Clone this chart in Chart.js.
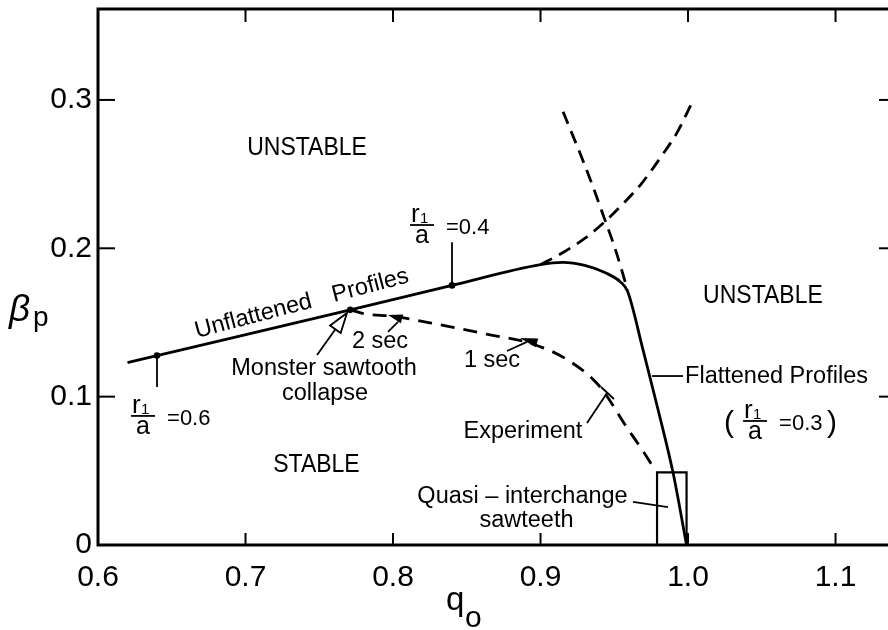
<!DOCTYPE html>
<html>
<head>
<meta charset="utf-8">
<style>
  html, body { margin: 0; padding: 0; background: #fff; overflow: hidden; }
  #wrap { position: absolute; left: 0; top: 0; width: 891px; height: 630px; }
</style>
<script src="https://cdn.jsdelivr.net/npm/chart.js@4/dist/chart.umd.min.js"></script>
</head>
<body>
<div id="wrap"><canvas id="c" width="891" height="630"></canvas></div>
<script>
// Axis ticks
const qTicks = [0.6, 0.7, 0.8, 0.9, 1.0, 1.1];
const qTickLabels = ['0.6', '0.7', '0.8', '0.9', '1.0', '1.1'];
const betaTicks = [0, 0.1, 0.2, 0.3];
const betaTickLabels = ['0', '0.1', '0.2', '0.3'];

// Stability boundary: unflattened profiles (straight part) turning into flattened profiles
const boundaryQ    = [0.62, 0.64, 0.771, 0.84, 0.90, 0.915, 0.930, 0.944, 0.954, 0.959, 0.9695, 0.980, 0.990, 0.999];
const boundaryBeta = [0.123, 0.1277, 0.1585, 0.175, 0.189, 0.1905, 0.1885, 0.1835, 0.1775, 0.171, 0.1315, 0.090, 0.048, 0.0];

// Dashed continuation of the unflattened boundary
const upperDashQ    = [0.90, 0.915, 0.9302, 0.9437, 0.9562, 0.9686, 0.9833, 0.9923, 1.0036];
const upperDashBeta = [0.189, 0.197, 0.2068, 0.218, 0.2303, 0.2438, 0.264, 0.2775, 0.300];

// Dashed continuation of the flattened boundary
const steepDashQ    = [0.9153, 0.928, 0.9356, 0.9437, 0.9505, 0.959];
const steepDashBeta = [0.292, 0.261, 0.2414, 0.219, 0.200, 0.172];

// Experimental trajectory
const experimentQ    = [0.771, 0.780, 0.801, 0.834, 0.864, 0.893, 0.918, 0.940, 0.958, 0.970, 0.978];
const experimentBeta = [0.1585, 0.156, 0.154, 0.148, 0.142, 0.136, 0.125, 0.107, 0.080, 0.0625, 0.050];

// Marked points on the boundary (r1/a = 0.6, monster collapse, r1/a = 0.4)
const markQ    = [0.64, 0.771, 0.84];
const markBeta = [0.1277, 0.1585, 0.175];

// Quasi-interchange sawteeth region
const boxQ    = [0.979, 0.979, 0.999, 0.999];
const boxBeta = [0, 0.049, 0.049, 0];

const pts = (xs, ys) => xs.map((x, i) => ({ x: x, y: ys[i] }));
const FONT = '"Liberation Sans", Arial, Helvetica, sans-serif';

function txt(ctx, s, px, py, o) {
  o = o || {};
  ctx.save();
  ctx.translate(px, py);
  if (o.rot) ctx.rotate(o.rot);
  ctx.scale(o.sx || 1, 1);
  ctx.font = (o.style || '') + ' ' + (o.size || 23.5) + 'px ' + FONT;
  ctx.textAlign = o.align || 'left';
  ctx.textBaseline = 'alphabetic';
  ctx.fillStyle = '#000';
  ctx.fillText(s, 0, 0);
  ctx.restore();
}

function seg(ctx, x1, y1, x2, y2, w) {
  ctx.save();
  ctx.strokeStyle = '#000';
  ctx.lineWidth = w || 1.8;
  ctx.lineCap = 'butt';
  ctx.beginPath();
  ctx.moveTo(x1, y1);
  ctx.lineTo(x2, y2);
  ctx.stroke();
  ctx.restore();
}

function arrowHead(ctx, tx, ty, bx, by, half, open) {
  const dx = tx - bx, dy = ty - by;
  const len = Math.hypot(dx, dy);
  const nx = -dy / len, ny = dx / len;
  ctx.save();
  ctx.beginPath();
  ctx.moveTo(tx, ty);
  ctx.lineTo(bx + nx * half, by + ny * half);
  ctx.lineTo(bx - nx * half, by - ny * half);
  ctx.closePath();
  if (open) {
    ctx.fillStyle = '#fff';
    ctx.fill();
    ctx.strokeStyle = '#000';
    ctx.lineWidth = 1.8;
    ctx.stroke();
  } else {
    ctx.fillStyle = '#000';
    ctx.fill();
  }
  ctx.restore();
}

function frac(ctx, bx, by, eq) {
  txt(ctx, 'r', bx + 1, by - 3, { size: 26 });
  txt(ctx, '1', bx + 10, by - 2, { size: 15 });
  seg(ctx, bx, by, bx + 24, by, 1.8);
  txt(ctx, 'a', bx + 12, by + 18, { size: 25, align: 'center' });
  txt(ctx, eq, bx + 36, by + 9, { size: 22 });
}

// Frame with inward ticks on all four sides
const framePlugin = {
  id: 'frame',
  afterDraw(chart) {
    const ctx = chart.ctx, a = chart.chartArea;
    const xs = chart.scales.x, ys = chart.scales.y;
    ctx.save();
    ctx.strokeStyle = '#000';
    ctx.lineWidth = 3;
    ctx.strokeRect(a.left, a.top, a.right - a.left, a.bottom - a.top);
    ctx.restore();
    qTicks.forEach(v => {
      if (v === qTicks[0]) return;
      const p = xs.getPixelForValue(v);
      seg(ctx, p, a.bottom, p, a.bottom - 12, 2);
      seg(ctx, p, a.top, p, a.top + 13, 2);
    });
    betaTicks.forEach(v => {
      if (v === 0) return;
      const p = ys.getPixelForValue(v);
      seg(ctx, a.left, p, a.left + 17, p, 2);
      seg(ctx, a.right, p, a.right - 12, p, 2);
    });

    // axis titles
    txt(ctx, 'β', 9, 321, { size: 37, style: 'italic' });
    txt(ctx, 'p', 33, 326, { size: 28 });
    txt(ctx, 'q', 446, 610, { size: 33 });
    txt(ctx, 'o', 465, 627, { size: 30 });
  }
};

// Region names, labels and leaders
const notesPlugin = {
  id: 'notes',
  afterDatasetsDraw(chart) {
    const ctx = chart.ctx;
    const xs = chart.scales.x, ys = chart.scales.y;
    const X = v => xs.getPixelForValue(v), Y = v => ys.getPixelForValue(v);

    txt(ctx, 'UNSTABLE', X(0.7417), Y(0.2629), { size: 25, sx: 0.92, align: 'center' });
    txt(ctx, 'UNSTABLE', X(1.0508), Y(0.1632), { size: 25, sx: 0.92, align: 'center' });
    txt(ctx, 'STABLE', X(0.7481), Y(0.0492), { size: 25, sx: 0.92, align: 'center' });

    // boundary label along the straight part
    const ux = X(0.6671), uy = Y(0.1396), px = X(0.76), py = Y(0.1638);
    const ang = Math.atan2(py - uy, px - ux);
    txt(ctx, 'Unflattened', ux, uy, { rot: ang });
    txt(ctx, 'Profiles', px, py, { rot: ang });

    txt(ctx, 'Monster sawtooth', X(0.7532), Y(0.1146), { align: 'center' });
    txt(ctx, 'collapse', X(0.7539), Y(0.0978), { align: 'center' });
    txt(ctx, '2 sec', X(0.7912), Y(0.1328), { align: 'center' });
    txt(ctx, '1 sec', X(0.8671), Y(0.120), { align: 'center' });
    txt(ctx, 'Experiment', X(0.8881), Y(0.0721), { align: 'center' });
    txt(ctx, 'Quasi – interchange', X(0.8878), Y(0.0283), { align: 'center' });
    txt(ctx, 'sawteeth', X(0.8905), Y(0.0121), { align: 'center' });
    txt(ctx, 'Flattened Profiles', X(0.998), Y(0.1092));

    // r1/a fractions
    frac(ctx, X(0.8115), Y(0.2157), '=0.4');
    frac(ctx, X(0.6224), Y(0.087), '=0.6');
    frac(ctx, X(1.0373), Y(0.0836), '=0.3');
    txt(ctx, '(', X(1.0373) - 19, Y(0.0836) + 11, { size: 30 });
    txt(ctx, ')', X(1.0373) + 84, Y(0.0836) + 11, { size: 30 });

    // leaders
    seg(ctx, X(0.64), Y(0.1277), X(0.64), Y(0.1065));
    seg(ctx, X(0.84), Y(0.175), X(0.84), Y(0.204));
    seg(ctx, X(0.7966), Y(0.1436), X(0.8034), Y(0.1504));
    seg(ctx, X(0.8773), Y(0.1308), X(0.8908), Y(0.1369));
    seg(ctx, X(0.9315), Y(0.0823), X(0.9451), Y(0.1025));
    seg(ctx, X(0.941), Y(0.1065), X(0.9498), Y(0.0984));
    seg(ctx, X(0.9756), Y(0.1139), X(0.9966), Y(0.1139));
    seg(ctx, X(0.9627), Y(0.029), X(0.9864), Y(0.0256));

    // time arrows on the experimental path
    arrowHead(ctx, X(0.7966), Y(0.155), X(0.8061), Y(0.1524), 4.5, false);
    arrowHead(ctx, X(0.8861), Y(0.1395), X(0.8976), Y(0.1362), 4.5, false);

    // open arrow pointing at the collapse
    const tx = X(0.7688), ty = Y(0.1564), sx = X(0.7485), sy = Y(0.1281);
    const L = Math.hypot(tx - sx, ty - sy);
    const hb = { x: tx - (tx - sx) / L * 20, y: ty - (ty - sy) / L * 20 };
    seg(ctx, sx, sy, hb.x, hb.y, 1.8);
    arrowHead(ctx, tx, ty, hb.x, hb.y, 6.5, true);
  }
};

const lineStyle = {
  showLine: true,
  borderColor: '#000',
  borderWidth: 2.8,
  pointRadius: 0,
  fill: false,
  cubicInterpolationMode: 'monotone'
};

// keep the plot frame exactly where the layout puts it
function noPad(s) {
  s.paddingTop = 0; s.paddingBottom = 0; s.paddingLeft = 0; s.paddingRight = 0;
}

new Chart(document.getElementById('c'), {
  type: 'scatter',
  data: {
    datasets: [
      Object.assign({ data: pts(boundaryQ, boundaryBeta) }, lineStyle),
      Object.assign({ data: pts(upperDashQ, upperDashBeta), borderDash: [13, 8] }, lineStyle),
      Object.assign({ data: pts(steepDashQ, steepDashBeta), borderDash: [13, 8] }, lineStyle),
      Object.assign({ data: pts(experimentQ, experimentBeta), borderDash: [14, 9] }, lineStyle),
      { data: pts(boxQ, boxBeta), showLine: true, borderColor: '#000', borderWidth: 2.2, pointRadius: 0, tension: 0, fill: false },
      { data: pts(markQ, markBeta), showLine: false, pointRadius: 3.3, backgroundColor: '#000', borderWidth: 0 }
    ]
  },
  options: {
    responsive: false,
    animation: false,
    devicePixelRatio: 1,
    layout: { autoPadding: false, padding: { top: 9, left: 0, right: 0, bottom: 0 } },
    plugins: { legend: { display: false }, tooltip: { enabled: false } },
    scales: {
      x: {
        type: 'linear',
        min: 0.6,
        max: 1.1376,
        afterFit(s) { s.height = 85; noPad(s); },
        afterBuildTicks(s) { s.ticks = qTicks.map(v => ({ value: v })); },
        grid: { display: false, drawTicks: false },
        border: { display: false },
        ticks: {
          callback: (v, i) => qTickLabels[i],
          color: '#000',
          font: { family: FONT, size: 30 },
          padding: 15,
          maxRotation: 0,
          autoSkip: false
        }
      },
      y: {
        type: 'linear',
        min: 0,
        max: 0.3613,
        afterFit(s) { s.width = 98; noPad(s); },
        afterBuildTicks(s) { s.ticks = betaTicks.map(v => ({ value: v })); },
        grid: { display: false, drawTicks: false },
        border: { display: false },
        ticks: {
          callback: (v, i) => betaTickLabels[i],
          color: '#000',
          font: { family: FONT, size: 30 },
          padding: 6,
          autoSkip: false
        }
      }
    }
  },
  plugins: [framePlugin, notesPlugin]
});
</script>
</body>
</html>
